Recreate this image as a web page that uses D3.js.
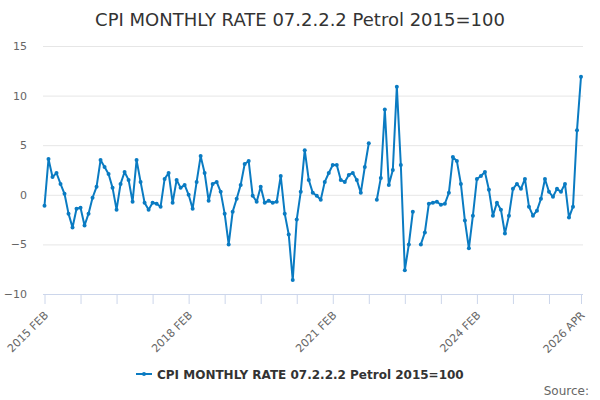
<!DOCTYPE html>
<html>
<head>
<meta charset="utf-8">
<script src="https://cdn.jsdelivr.net/npm/d3@7"></script>
<style>
  body { margin: 0; background: #fff; }
  svg { font-family: "DejaVu Sans", sans-serif; }
</style>
</head>
<body>
<div id="container"></div>
<script>
/* CONSTANTS AND GLOBALS */
const width = 600,
  height = 400,
  margin = { top: 46, bottom: 106, left: 44.5, right: 19 };

const seriesName = "CPI MONTHLY RATE 07.2.2.2 Petrol 2015=100";
const lineColor = "#0a7bc2";

// months, Feb 2015 .. Apr 2026
const monthNames = ["JAN", "FEB", "MAR", "APR", "MAY", "JUN", "JUL", "AUG", "SEP", "OCT", "NOV", "DEC"];
const months = [];
for (let y = 2015, m = 1; y < 2026 || m <= 3; m++) {
  if (m > 11) { m = 0; y++; }
  months.push(y + " " + monthNames[m]);
  if (y === 2026 && m === 3) break;
}

// monthly rate, % (null = no value)
const values = [
  -1.1, 3.6, 1.8, 2.2, 1.1, 0.1, -1.9, -3.3, -1.4, -1.3, -3.1, -1.9,
  -0.3, 0.8, 3.5, 2.8, 2.1, 0.7, -1.5, 1.1, 2.3, 1.5, -0.7, 3.5,
  1.3, -0.8, -1.5, -0.8, -0.9, -1.2, 1.6, 2.2, -0.8, 1.5, 0.7, 1.0,
  0.0, -1.4, 1.3, 3.9, 2.2, -0.6, 1.1, 1.3, 0.3, -1.9, -5.0, -1.7,
  -0.4, 1.0, 3.1, 3.4, -0.1, -0.7, 0.8, -0.8, -0.6, -0.8, -0.7, 1.9,
  -1.9, -4.0, -8.6, -2.5, 0.3, 4.5, 1.5, 0.2, -0.1, -0.5, 1.3, 2.2,
  3.0, 3.0, 1.5, 1.3, 2.0, 2.2, 1.5, 0.2, 2.8, 5.2, null, -0.5,
  1.7, 8.6, 1.0, 2.5, 10.9, 3.0, -7.6, -5.0, -1.7, null, -5.0, -3.8,
  -0.9, -0.8, -0.7, -1.0, -0.9, 0.2, 3.8, 3.4, 1.1, -2.6, -5.4, -2.1,
  1.6, 1.9, 2.3, 0.5, -2.1, -0.8, -1.5, -3.9, -2.1, 0.6, 1.1, 0.6,
  1.6, -1.2, -2.1, -1.6, -0.4, 1.6, 0.3, -0.2, 0.6, 0.3, 1.1, -2.3,
  -1.2, 6.5, 11.9
];

const yTicks = [-10, -5, 0, 5, 10, 15];
const xLabels = ["2015 FEB", "2018 FEB", "2021 FEB", "2024 FEB", "2026 APR"];

const data = months.map((m, i) => ({ i: i, month: m, value: values[i] }));

/* SCALES */
const xScale = d3.scaleLinear()
  .domain([0, months.length - 1])
  .range([margin.left, width - margin.right]);

const yScale = d3.scaleLinear()
  .domain([-10, 15])
  .range([height - margin.bottom, margin.top]);

/* SVG */
const svg = d3.select("#container")
  .append("svg")
  .attr("width", width)
  .attr("height", height);

// title
svg.append("text")
  .attr("x", width / 2)
  .attr("y", 26)
  .attr("text-anchor", "middle")
  .attr("fill", "#333")
  .attr("font-size", "18px")
  .text(seriesName);

// y axis (gridlines + labels)
const yAxis = d3.axisLeft(yScale)
  .tickValues(yTicks)
  .tickSize(-(width - margin.right + 2 - 43))
  .tickPadding(16);

const yAxisGroup = svg.append("g")
  .attr("transform", `translate(43,0)`)
  .call(yAxis);
yAxisGroup.select(".domain").remove();
yAxisGroup.selectAll(".tick line").attr("stroke", "#e6e6e6");
yAxisGroup.selectAll(".tick text")
  .attr("fill", "#666")
  .attr("font-size", "11px")
  .attr("font-family", "DejaVu Sans, sans-serif");

// x axis
const tickIdx = d3.range(0, months.length, 9).concat([months.length - 1]);
const xAxis = d3.axisBottom(xScale)
  .tickValues(tickIdx)
  .tickSize(10)
  .tickSizeOuter(0)
  .tickFormat(i => xLabels.includes(months[i]) ? months[i] : "");

const xAxisGroup = svg.append("g")
  .attr("transform", `translate(0,${height - margin.bottom})`)
  .call(xAxis);
xAxisGroup.select(".domain")
  .attr("stroke", "#ccd6eb")
  .attr("d", `M43,0.5H${width - margin.right + 2}`);
xAxisGroup.selectAll(".tick line").attr("stroke", "#ccd6eb");
xAxisGroup.selectAll(".tick text")
  .attr("fill", "#666")
  .attr("font-size", "11px")
  .attr("font-family", "DejaVu Sans, sans-serif")
  .attr("text-anchor", "end")
  .attr("x", 0)
  .attr("y", 0)
  .attr("dy", "0")
  .attr("transform", "translate(4,22) rotate(-45)");

/* LINE */
const lineGen = d3.line()
  .defined(d => d.value !== null)
  .x(d => xScale(d.i))
  .y(d => yScale(d.value));

svg.append("path")
  .datum(data)
  .attr("fill", "none")
  .attr("stroke", lineColor)
  .attr("stroke-width", 2)
  .attr("stroke-linejoin", "round")
  .attr("d", lineGen);

svg.selectAll("circle.pt")
  .data(data.filter(d => d.value !== null))
  .join("circle")
  .attr("class", "pt")
  .attr("cx", d => xScale(d.i))
  .attr("cy", d => yScale(d.value))
  .attr("r", 2)
  .attr("fill", lineColor);

/* LEGEND */
const legend = svg.append("g").attr("transform", "translate(136,374)");
legend.append("line")
  .attr("x1", 0).attr("x2", 16)
  .attr("y1", 0).attr("y2", 0)
  .attr("stroke", lineColor)
  .attr("stroke-width", 2);
legend.append("circle")
  .attr("cx", 8).attr("cy", 0).attr("r", 2)
  .attr("fill", lineColor);
legend.append("text")
  .attr("x", 21)
  .attr("y", 4.5)
  .attr("fill", "#333")
  .attr("font-size", "12px")
  .attr("font-weight", "bold")
  .text(seriesName);

// credits
svg.append("text")
  .attr("x", 589)
  .attr("y", 395)
  .attr("text-anchor", "end")
  .attr("fill", "#666")
  .attr("font-size", "12px")
  .text("Source:");
</script>
</body>
</html>
